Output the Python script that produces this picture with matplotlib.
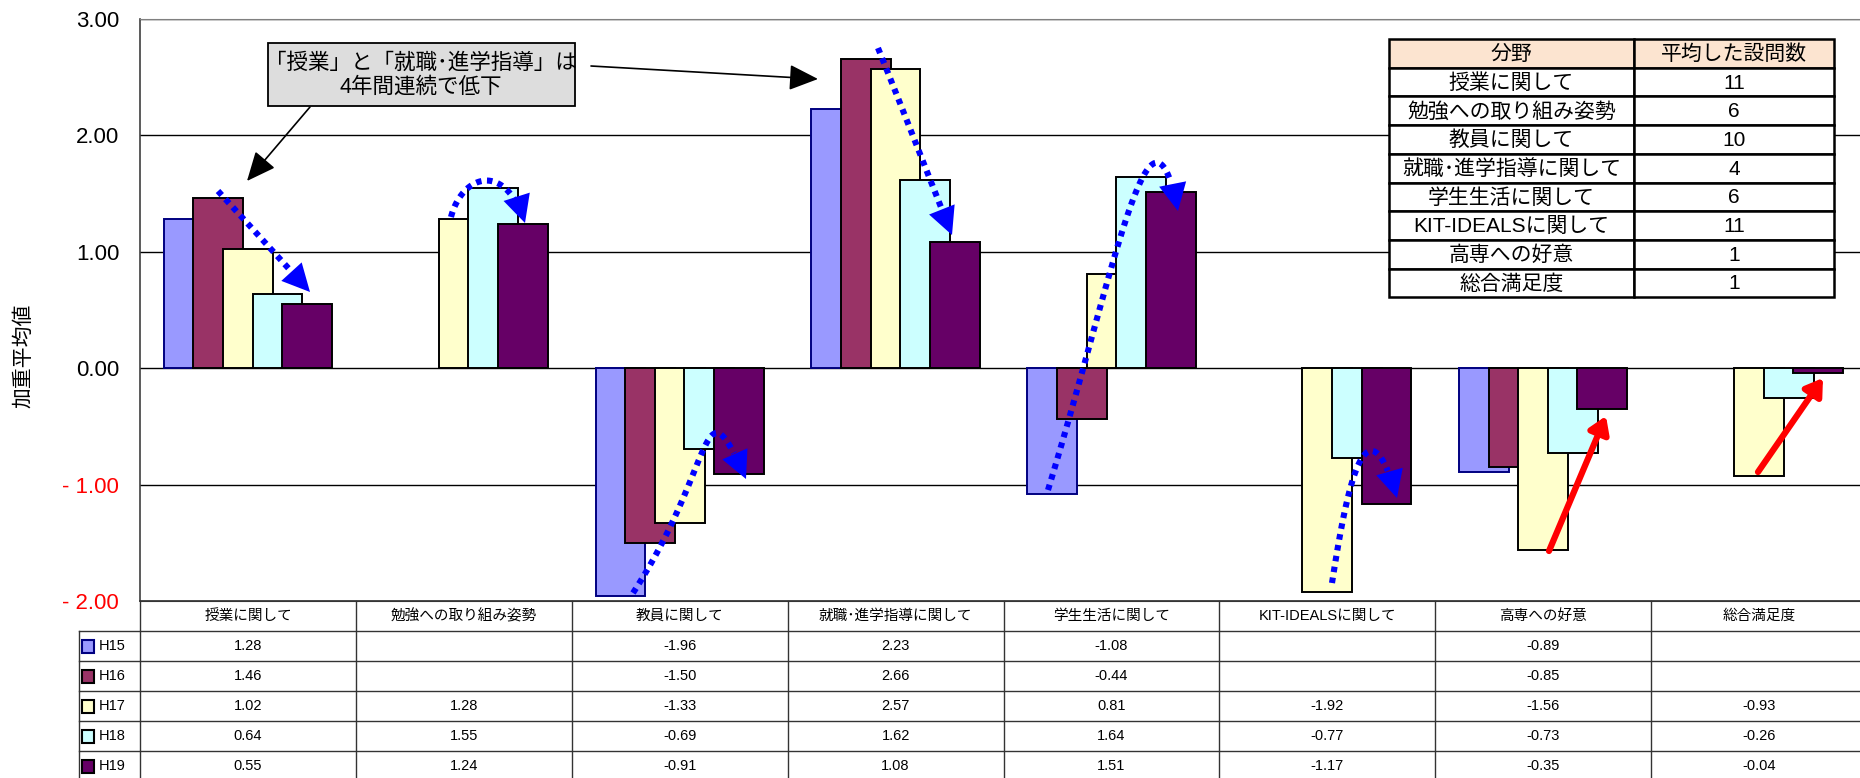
import numpy as np
import matplotlib
matplotlib.use('Agg')
import matplotlib.pyplot as plt
from matplotlib.patches import Rectangle
from matplotlib.path import Path

plt.rcParams['font.family'] = ['Liberation Sans', 'Noto Sans CJK JP', 'DejaVu Sans']

# ---------------- data ----------------
categories = ['授業に関して', '勉強への取り組み姿勢', '教員に関して', '就職･進学指導に関して',
              '学生生活に関して', 'KIT-IDEALSに関して', '高専への好意', '総合満足度']
series_names = ['H15', 'H16', 'H17', 'H18', 'H19']
h15 = [1.28, None, -1.96, 2.23, -1.08, None, -0.89, None]
h16 = [1.46, None, -1.50, 2.66, -0.44, None, -0.85, None]
h17 = [1.02, 1.28, -1.33, 2.57, 0.81, -1.92, -1.56, -0.93]
h18 = [0.64, 1.55, -0.69, 1.62, 1.64, -0.77, -0.73, -0.26]
h19 = [0.55, 1.24, -0.91, 1.08, 1.51, -1.17, -0.35, -0.04]
series_values = [h15, h16, h17, h18, h19]

field_header = ['分野', '平均した設問数']
field_names = ['授業に関して', '勉強への取り組み姿勢', '教員に関して', '就職･進学指導に関して',
               '学生生活に関して', 'KIT-IDEALSに関して', '高専への好意', '総合満足度']
question_counts = [11, 6, 10, 4, 6, 11, 1, 1]

yticks = [3, 2, 1, 0, -1, -2]
ytick_labels = ['3.00', '2.00', '1.00', '0.00', '- 1.00', '- 2.00']
ytick_colors = ['black', 'black', 'black', 'black', 'red', 'red']
ylabel = '加重平均値'
note_text = '「授業」と「就職･進学指導」は\n4年間連続で低下'

# ---------------- style ----------------
face_colors = ['#9999FF', '#993366', '#FFFFCC', '#CCFFFF', '#660066']
edge_colors = ['#000080', 'black', 'black', 'black', 'black']

W, H = 1860, 778
AX_L, AX_R, AX_T, AX_B = 140, 1867, 19, 601
fig = plt.figure(figsize=(W / 100, H / 100), dpi=100)
fig.patch.set_facecolor('white')
ax = fig.add_axes([AX_L / W, 1 - AX_B / H, (AX_R - AX_L) / W, (AX_B - AX_T) / H])

ncat = len(categories)
step = 0.137
bw = 0.231
for k, (vals, fc, ec) in enumerate(zip(series_values, face_colors, edge_colors)):
    xs = [i + (k - 2) * step for i, v in enumerate(vals) if v is not None]
    hs = [v for v in vals if v is not None]
    ax.bar(xs, hs, width=bw, color=fc, edgecolor=ec, linewidth=1.4, zorder=3 + k)

ax.set_xlim(-0.5, ncat - 0.5)
ax.set_ylim(-2, 3)
ax.set_yticks(yticks)
ax.set_yticklabels(ytick_labels, fontsize=16)
for lab, c in zip(ax.get_yticklabels(), ytick_colors):
    lab.set_color(c)
ax.tick_params(axis='y', length=0, pad=15)
ax.set_xticks([])
ax.yaxis.grid(True, color='black', linewidth=1.0)
ax.set_axisbelow(True)
ax.spines['right'].set_visible(False)
ax.spines['top'].set_color('#808080')
ax.spines['left'].set_color('#404040')
ax.spines['left'].set_linewidth(1.2)
ax.spines['bottom'].set_color('#404040')

# ---------------- overlay in pixel coordinates ----------------
ov = fig.add_axes([0, 0, 1, 1], zorder=5)
ov.set_xlim(0, W)
ov.set_ylim(H, 0)
ov.set_axis_off()
ov.patch.set_alpha(0)

# y label
ov.text(24, 356, ylabel, rotation=90, ha='center', va='center', fontsize=15)

# bottom data table
colw = (AX_R - AX_L) / ncat
col_x = [AX_L + i * colw for i in range(ncat + 1)]
hdr_top, hdr_bot = AX_B, 631
row_h = 30
leg_l = 79
lc = '#333333'
ov.plot([AX_L, AX_R], [hdr_top, hdr_top], color=lc, lw=1.2)
for i in range(len(series_names)):
    yb = hdr_bot + (i + 1) * row_h
    ov.plot([leg_l, AX_R], [yb, yb], color=lc, lw=1.0)
ov.plot([leg_l, AX_R], [hdr_bot, hdr_bot], color=lc, lw=1.0)
for x in col_x:
    ov.plot([x, x], [hdr_top, H], color=lc, lw=1.0)
ov.plot([leg_l, leg_l], [hdr_bot, H], color=lc, lw=1.0)

for i, cat in enumerate(categories):
    cx = (col_x[i] + col_x[i + 1]) / 2
    ov.text(cx, (hdr_top + hdr_bot) / 2, cat, ha='center', va='center', fontsize=10.5)
for r, (name, vals, fc, ec) in enumerate(zip(series_names, series_values, face_colors, edge_colors)):
    cy = hdr_bot + r * row_h + row_h / 2
    ov.add_patch(Rectangle((82, cy - 6.5), 12, 13, facecolor=fc, edgecolor=ec, lw=1.5))
    ov.text(99, cy, name, ha='left', va='center', fontsize=10.5)
    for i, v in enumerate(vals):
        if v is None:
            continue
        cx = (col_x[i] + col_x[i + 1]) / 2
        ov.text(cx, cy, f'{v:.2f}', ha='center', va='center', fontsize=10.5)

# right-hand table
tx0, tx1, tx2 = 1389, 1634, 1834
ty0 = 39
trh = 28.7
rows = [field_header] + [[n, str(c)] for n, c in zip(field_names, question_counts)]
for r, (a, b) in enumerate(rows):
    y = ty0 + r * trh
    fc = '#FCE4D0' if r == 0 else 'white'
    ov.add_patch(Rectangle((tx0, y), tx1 - tx0, trh, facecolor=fc, edgecolor='black', lw=1.8))
    ov.add_patch(Rectangle((tx1, y), tx2 - tx1, trh, facecolor=fc, edgecolor='black', lw=1.8))
    ov.text((tx0 + tx1) / 2, y + trh / 2 + 1, a, ha='center', va='center', fontsize=15)
    ov.text((tx1 + tx2) / 2, y + trh / 2 + 1, b, ha='center', va='center', fontsize=15)

# note box with arrows
ov.add_patch(Rectangle((268, 43), 307, 63, facecolor='#DDDDDD', edgecolor='black', lw=1.3))
ov.text(421, 75, note_text, ha='center', va='center', fontsize=15.5, linespacing=1.2)
for (x0, y0), (x1, y1) in [((310, 107), (247, 181)), ((591, 66), (818, 79))]:
    ov.annotate('', xy=(x1, y1), xytext=(x0, y0),
                arrowprops=dict(arrowstyle='-|>,head_length=0.9,head_width=0.4', color='black',
                                lw=1.2, mutation_scale=20, shrinkA=0, shrinkB=0))

# blue dotted trend arrows (cubic Bezier control points, pixel coords)
blue_curves = [
    [(218, 191), (249, 225), (280, 259), (310, 292)],
    [(451, 217), (462, 175), (505, 160), (525, 223)],
    [(633, 593), (718, 462), (700, 375), (746, 479)],
    [(878, 48), (903, 110), (927, 172), (952, 235)],
    [(1048, 490), (1118, 260), (1150, 70), (1178, 211)],
    [(1332, 583), (1345, 500), (1365, 385), (1397, 498)],
]
for pts in blue_curves:
    p = np.array(pts, dtype=float)
    t = np.linspace(0, 0.9, 80)[:, None]
    curve = ((1 - t) ** 3) * p[0] + 3 * ((1 - t) ** 2) * t * p[1] + 3 * (1 - t) * t ** 2 * p[2] + t ** 3 * p[3]
    ov.plot(curve[:, 0], curve[:, 1], color='#0000FF', lw=4.4, linestyle=(0, (0.9, 0.9)),
            solid_capstyle='butt', dash_capstyle='butt')
    tan = p[3] - p[2]
    tan = tan / np.hypot(*tan)
    ov.annotate('', xy=tuple(p[3]), xytext=tuple(p[3] - tan * 20),
                arrowprops=dict(arrowstyle='-|>,head_length=0.9,head_width=0.45', color='#0000FF',
                                lw=0, mutation_scale=22, shrinkA=0, shrinkB=0))

# red solid arrows
for (x0, y0), (x1, y1) in [((1549, 551), (1606, 416)), ((1758, 472), (1823, 378))]:
    ov.annotate('', xy=(x1, y1), xytext=(x0, y0),
                arrowprops=dict(arrowstyle='-|>,head_length=0.7,head_width=0.45', color='#FF0000',
                                lw=4.5, mutation_scale=14, shrinkA=0, shrinkB=0))

fig.savefig('out.png', dpi=100, facecolor='white')
